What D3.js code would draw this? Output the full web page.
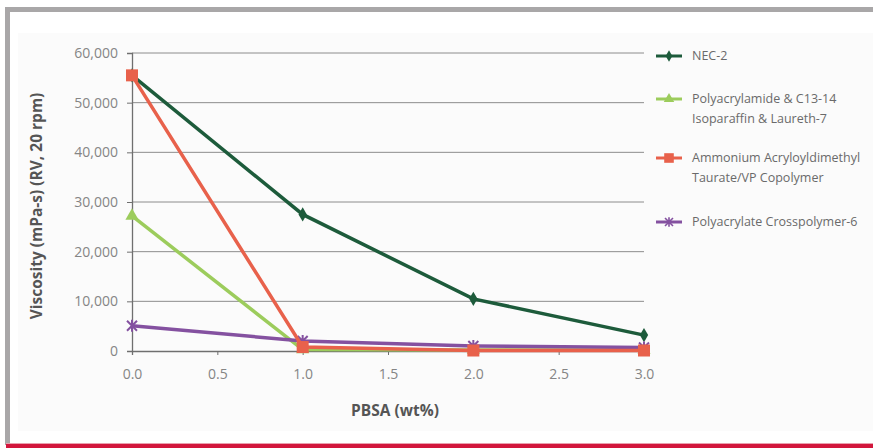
<!DOCTYPE html>
<html>
<head>
<meta charset="utf-8">
<script src="https://cdn.jsdelivr.net/npm/d3@7"></script>
<style>
  body { margin: 0; background: #fff; }
  svg { display: block; font-family: "Open Sans", "DejaVu Sans", sans-serif; }
</style>
</head>
<body>
<svg width="873" height="448"></svg>
<script>
// data
var pbsa = [0, 1, 2, 3];
var seriesNames = ["NEC-2", "Polyacrylamide & C13-14|Isoparaffin & Laureth-7",
                   "Ammonium Acryloyldimethyl|Taurate/VP Copolymer", "Polyacrylate Crosspolymer-6"];
var nec2 = [55500, 27500, 10500, 3200];
var polyacrylamide = [27200, 300, 200, 200];
var ammonium = [55500, 800, 100, 100];
var polyacrylate = [5100, 2000, 1000, 700];
var yTicks = [0, 10000, 20000, 30000, 40000, 50000, 60000];
var xTicks = [0, 0.5, 1, 1.5, 2, 2.5, 3];

var colors = ["#1d5b3b", "#9ccc5c", "#e8614b", "#8451a0"];
var shapes = ["diamond", "triangle", "square", "star"];
var values = [nec2, polyacrylamide, ammonium, polyacrylate];

var svg = d3.select("svg"),
    width = +svg.attr("width"),
    height = +svg.attr("height");

// frame
svg.append("rect").attr("x", 18).attr("y", 33).attr("width", 855).attr("height", 398).attr("fill", "#fbfbfb");
svg.append("rect").attr("x", 5).attr("y", 7).attr("width", 868).attr("height", 5).attr("fill", "#a9a7a8");
svg.append("rect").attr("x", 5).attr("y", 7).attr("width", 5).attr("height", 438).attr("fill", "#a9a7a8");
svg.append("rect").attr("x", 6).attr("y", 443).attr("width", 867).attr("height", 1).attr("fill", "#e9a0ad");
svg.append("rect").attr("x", 6).attr("y", 444).attr("width", 867).attr("height", 4).attr("fill", "#d2163c");

var x = d3.scaleLinear().domain([0, 3]).range([132, 644]),
    y = d3.scaleLinear().domain([0, 60000]).range([351, 53]);

// gridlines
svg.append("g").selectAll("line").data(yTicks.slice(1)).enter().append("line")
    .attr("x1", x(0)).attr("x2", x(3))
    .attr("y1", function(d) { return y(d); }).attr("y2", function(d) { return y(d); })
    .attr("stroke", "#8c8c8c").attr("stroke-width", 1);

// axes
var yAxis = svg.append("g").attr("transform", "translate(" + x(0) + ",0)")
    .call(d3.axisLeft(y).tickValues(yTicks).tickSize(5).tickPadding(9).tickFormat(d3.format(",")));
var xAxis = svg.append("g").attr("transform", "translate(0," + y(0) + ")")
    .call(d3.axisBottom(x).tickValues(xTicks).tickSize(4).tickPadding(14).tickFormat(d3.format(".1f")));
[yAxis, xAxis].forEach(function(a) {
  a.select(".domain").attr("stroke", "#6f6f6f").attr("stroke-width", 1.3);
  a.selectAll(".tick line").attr("stroke", "#6f6f6f");
  a.selectAll(".tick text").attr("fill", "#858585").style("font-size", "14px").style("font-family", "Open Sans, sans-serif");
});

// axis titles
svg.append("text").attr("transform", "translate(42,206) rotate(-90)")
    .attr("text-anchor", "middle").attr("fill", "#555").style("font-size", "15.5px").style("font-weight", "bold")
    .text("Viscosity (mPa-s) (RV, 20 rpm)");
svg.append("text").attr("x", 395).attr("y", 416)
    .attr("text-anchor", "middle").attr("fill", "#555").style("font-size", "15.5px").style("font-weight", "bold")
    .text("PBSA (wt%)");

function marker(g, shape, color) {
  if (shape == "diamond") {
    g.append("path").attr("d", d3.symbol().type(d3.symbolDiamond).size(60)).attr("fill", color);
  } else if (shape == "triangle") {
    g.append("path").attr("d", d3.symbol().type(d3.symbolTriangle).size(75)).attr("fill", color);
  } else if (shape == "square") {
    g.append("rect").attr("x", -6).attr("y", -6).attr("width", 12).attr("height", 12).attr("fill", color);
  } else {
    g.append("path").attr("d", "M-5,-5L5,5M-5,5L5,-5M0,-6L0,6").attr("stroke", color).attr("stroke-width", 2);
  }
}

var line = d3.line().x(function(d, i) { return x(pbsa[i]); }).y(function(d) { return y(d); });

// draw order so red sits over dark green at 0
var order = [0, 1, 3, 2];
order.forEach(function(k) {
  var g = svg.append("g");
  g.append("path").datum(values[k]).attr("d", line)
      .attr("fill", "none").attr("stroke", colors[k]).attr("stroke-width", 3.5);
  g.selectAll(".m").data(values[k]).enter().append("g")
      .attr("transform", function(d, i) { return "translate(" + x(pbsa[i]) + "," + y(d) + ")"; })
      .each(function() { marker(d3.select(this), shapes[k], colors[k]); });
});

// legend
var legY = [56, 99, 158, 222];
seriesNames.forEach(function(name, k) {
  var g = svg.append("g").attr("transform", "translate(0," + legY[k] + ")");
  g.append("line").attr("x1", 656).attr("x2", 682).attr("stroke", colors[k]).attr("stroke-width", 3);
  var m = g.append("g").attr("transform", "translate(669,0) scale(0.8)");
  marker(m, shapes[k], colors[k]);
  name.split("|").forEach(function(t, j) {
    g.append("text").attr("x", 692).attr("y", j * 20).attr("dy", "0.35em")
        .attr("fill", "#6a6a6a").style("font-size", "12.5px").text(t);
  });
});
</script>
</body>
</html>
